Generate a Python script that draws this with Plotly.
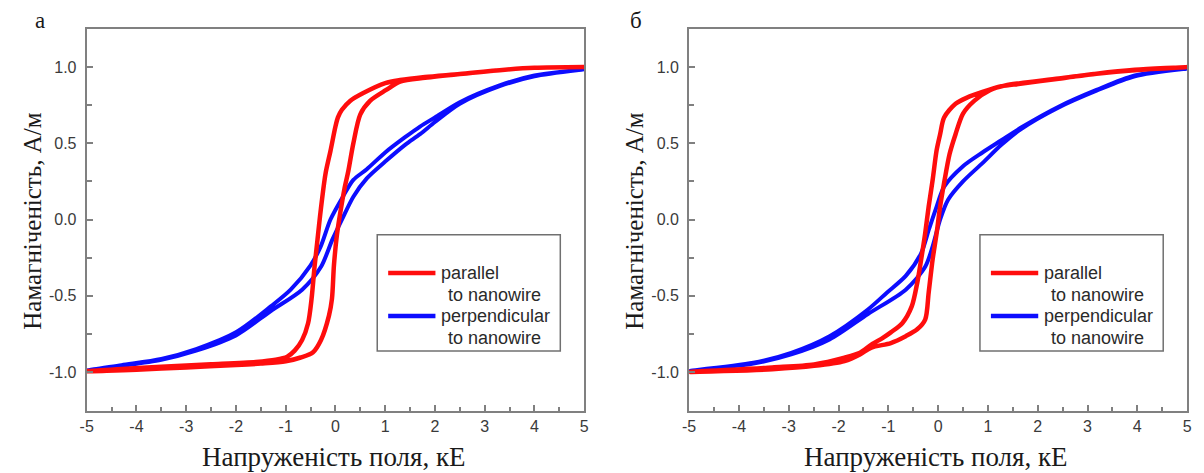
import plotly.graph_objects as go

# ---------------- data (panel а) ----------------
a_par_down_x = [5, 4.0, 3.3, 2.5, 1.8, 1.3, 1.0, 0.56, 0.3, 0.13, 0.05, 0.0, -0.1, -0.2, -0.3, -0.36, -0.42, -0.48, -0.55, -0.67, -0.82, -0.97, -1.2, -1.6, -2.5, -3.5, -4.3, -5]
a_par_down_y = [1.0, 0.995, 0.98, 0.955, 0.935, 0.915, 0.895, 0.83, 0.78, 0.72, 0.67, 0.61, 0.45, 0.30, 0.05, -0.13, -0.31, -0.52, -0.68, -0.79, -0.86, -0.90, -0.92, -0.935, -0.95, -0.965, -0.98, -0.995]
a_par_up_x = [-5, -4, -3, -2, -1.5, -1.0, -0.7, -0.45, -0.29, -0.13, -0.07, -0.03, 0.03, 0.1, 0.18, 0.26, 0.36, 0.5, 0.7, 1.02, 1.3, 1.8, 2.5, 3.3, 4.0, 5]
a_par_up_y = [-0.995, -0.985, -0.97, -0.955, -0.945, -0.93, -0.905, -0.87, -0.79, -0.63, -0.52, -0.3, -0.1, 0.05, 0.2, 0.32, 0.5, 0.69, 0.78, 0.85, 0.905, 0.93, 0.955, 0.98, 0.995, 1.0]

a_perp_down_x = [5, 4.0, 3.3, 2.5, 2.0, 1.7, 1.4, 1.0, 0.63, 0.36, 0.15, -0.1, -0.3, -0.5, -0.9, -1.3, -2.0, -2.8, -3.5, -4.3, -5]
a_perp_down_y = [0.985, 0.945, 0.88, 0.77, 0.67, 0.61, 0.54, 0.44, 0.33, 0.26, 0.15, 0.0, -0.18, -0.30, -0.46, -0.57, -0.74, -0.85, -0.915, -0.955, -0.99]
a_perp_up_x = [-5, -4.3, -3.5, -2.8, -2.0, -1.3, -0.67, -0.29, -0.06, 0.13, 0.36, 0.63, 1.0, 1.4, 1.7, 2.0, 2.5, 3.3, 4.0, 5]
a_perp_up_y = [-0.99, -0.96, -0.92, -0.86, -0.76, -0.60, -0.46, -0.31, -0.13, 0.0, 0.15, 0.27, 0.38, 0.49, 0.56, 0.64, 0.76, 0.875, 0.94, 0.985]

# ---------------- data (panel б) ----------------
b_par_down_x = [5, 3.95, 3.18, 2.42, 1.65, 1.27, 0.89, 0.58, 0.35, 0.12, 0.04, -0.03, -0.11, -0.19, -0.26, -0.34, -0.42, -0.53, -0.72, -0.95, -1.11, -1.34, -1.57, -1.88, -2.49, -3.33, -5]
b_par_down_y = [1.0, 0.98, 0.956, 0.924, 0.89, 0.874, 0.837, 0.80, 0.76, 0.67, 0.56, 0.455, 0.26, 0.085, -0.09, -0.26, -0.416, -0.57, -0.68, -0.74, -0.776, -0.82, -0.874, -0.906, -0.95, -0.97, -1.0]
b_par_up_x = [-5, -3.33, -2.49, -1.88, -1.57, -1.34, -0.95, -0.65, -0.42, -0.26, -0.19, -0.11, -0.03, 0.04, 0.12, 0.23, 0.35, 0.5, 0.73, 1.04, 1.35, 1.65, 2.42, 3.18, 3.95, 5]
b_par_up_y = [-1.0, -0.982, -0.96, -0.928, -0.885, -0.84, -0.81, -0.765, -0.72, -0.656, -0.48, -0.26, -0.09, 0.085, 0.24, 0.43, 0.56, 0.695, 0.78, 0.848, 0.88, 0.895, 0.925, 0.957, 0.982, 1.0]

b_perp_down_x = [5, 3.95, 3.18, 2.42, 1.65, 1.27, 0.89, 0.5, 0.12, -0.03, -0.19, -0.34, -0.65, -1.03, -1.41, -2.18, -2.95, -3.71, -5]
b_perp_down_y = [0.99, 0.945, 0.85, 0.74, 0.60, 0.52, 0.44, 0.35, 0.215, 0.085, -0.07, -0.22, -0.37, -0.48, -0.59, -0.765, -0.874, -0.94, -0.993]
b_perp_up_x = [-5, -3.71, -2.95, -2.18, -1.41, -0.65, -0.26, -0.11, 0.04, 0.2, 0.5, 0.89, 1.27, 1.65, 2.42, 3.18, 3.95, 5]
b_perp_up_y = [-0.993, -0.945, -0.885, -0.787, -0.62, -0.46, -0.31, -0.176, 0.0, 0.13, 0.25, 0.37, 0.49, 0.59, 0.735, 0.845, 0.94, 0.99]

x_ticks = [-5, -4, -3, -2, -1, 0, 1, 2, 3, 4, 5]
x_tick_text = ["-5", "-4", "-3", "-2", "-1", "0", "1", "2", "3", "4", "5"]
y_ticks = [-1.0, -0.5, 0.0, 0.5, 1.0]
y_tick_text = ["-1.0", "-0.5", "0.0", "0.5", "1.0"]

legend_labels = [["parallel", "to nanowire"], ["perpendicular", "to nanowire"]]
panel_labels = ["а", "б"]
x_title = "Напруженість поля, кЕ"
y_title = "Намагніченість, А/м"

RED = "#ff0d0d"
BLUE = "#0d0dff"

fig = go.Figure()

panels = [
    ("x", "y", a_par_down_x, a_par_down_y, a_par_up_x, a_par_up_y,
     a_perp_down_x, a_perp_down_y, a_perp_up_x, a_perp_up_y),
    ("x2", "y2", b_par_down_x, b_par_down_y, b_par_up_x, b_par_up_y,
     b_perp_down_x, b_perp_down_y, b_perp_up_x, b_perp_up_y),
]

for (xa, ya, pdx, pdy, pux, puy, qdx, qdy, qux, quy) in panels:
    fig.add_trace(go.Scatter(x=qdx + qux[1:], y=qdy + quy[1:], mode="lines",
                             line=dict(color=BLUE, width=4, shape="spline", smoothing=0.8),
                             xaxis=xa, yaxis=ya, showlegend=False))
    fig.add_trace(go.Scatter(x=pdx + pux[1:], y=pdy + puy[1:], mode="lines",
                             line=dict(color=RED, width=4.5, shape="spline", smoothing=0.8),
                             xaxis=xa, yaxis=ya, showlegend=False))

W, H = 1204, 473
ydom = [1 - 411 / H, 1 - 29 / H]
xdoms = [[80.5 / W, 583 / W], [689 / W, 1192 / W]]

axis_common = dict(showline=True, linecolor="#808080", linewidth=2, mirror=True,
                   ticks="inside", tickcolor="#808080", tickwidth=1.5, ticklen=6,
                   showgrid=False, zeroline=False,
                   tickfont=dict(family="Liberation Sans, Arial", size=16, color="#3a3a3a"))

for i, suffix in enumerate(["", "2"]):
    fig.layout["xaxis" + suffix] = dict(
        axis_common, domain=xdoms[i], range=[-5, 5], anchor="y" + suffix,
        tickvals=x_ticks, ticktext=x_tick_text,
        minor=dict(ticks="inside", dtick=0.5, ticklen=4, tickcolor="#808080", tickwidth=1.5),
        ticklabelstandoff=0)
    fig.layout["yaxis" + suffix] = dict(
        axis_common, domain=ydom, range=[-1.256, 1.25], anchor="x" + suffix,
        tickvals=y_ticks, ticktext=y_tick_text,
        minor=dict(ticks="inside", dtick=0.25, ticklen=5, tickcolor="#808080", tickwidth=1.5),
        ticklabelstandoff=5)

shapes = []
annotations = []
for i, suffix in enumerate(["", "2"]):
    xr, yr = "x" + suffix, "y" + suffix
    # legend box
    shapes.append(dict(type="rect", xref=xr, yref=yr, x0=0.84, x1=4.52, y0=-0.862, y1=-0.10,
                       line=dict(color="#707070", width=1.5), fillcolor="white", layer="above"))
    for j, (col, yl) in enumerate([(RED, -0.351), (BLUE, -0.633)]):
        shapes.append(dict(type="line", xref=xr, yref=yr, x0=1.06, x1=2.01, y0=yl, y1=yl,
                           line=dict(color=col, width=4.5), layer="above"))
        annotations.append(dict(xref=xr, yref=yr, x=2.08, y=yl, text=legend_labels[j][0],
                                showarrow=False, xanchor="left", yanchor="middle",
                                font=dict(family="Liberation Sans, Arial", size=18, color="#2a2a2a")))
        annotations.append(dict(xref=xr, yref=yr, x=2.22, y=yl - 0.142, text=legend_labels[j][1],
                                showarrow=False, xanchor="left", yanchor="middle",
                                font=dict(family="Liberation Sans, Arial", size=18, color="#2a2a2a")))
    # panel letters
    annotations.append(dict(xref="paper", yref="paper", x=[33 / W, 635 / W][i], y=1 - 20 / H,
                            text=panel_labels[i], showarrow=False, xanchor="center", yanchor="middle",
                            font=dict(family="Liberation Serif, Times New Roman", size=23, color="#1a1a1a")))
    # axis titles
    annotations.append(dict(xref="paper", yref="paper", x=[330 / W, 938 / W][i], y=1 - 457 / H,
                            text=x_title, showarrow=False, xanchor="center", yanchor="middle",
                            font=dict(family="Liberation Serif, Times New Roman", size=27, color="#1a1a1a")))
    annotations.append(dict(xref="paper", yref="paper", x=[26 / W, 634 / W][i], y=1 - 221 / H,
                            text=y_title, showarrow=False, xanchor="center", yanchor="middle",
                            textangle=-90,
                            font=dict(family="Liberation Serif, Times New Roman", size=25, color="#1a1a1a")))

fig.update_layout(width=W, height=H, margin=dict(l=0, r=0, t=0, b=0),
                  paper_bgcolor="white", plot_bgcolor="white",
                  shapes=shapes, annotations=annotations, showlegend=False)

fig.write_html("out.html", config={"displayModeBar": False},
               post_script="document.body.style.margin='0px';document.body.style.overflow='hidden';")
